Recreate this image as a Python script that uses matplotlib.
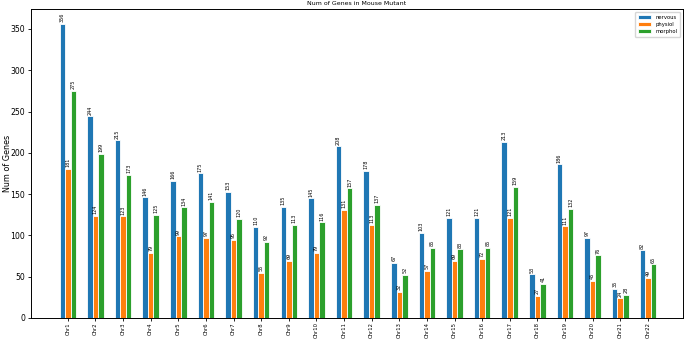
import numpy as np
import matplotlib
matplotlib.use("Agg")
import matplotlib.pyplot as plt

chroms = ["Chr%d" % i for i in range(1, 23)]
nervous = [356, 244, 215, 146, 166, 175, 153, 110, 135, 145, 208, 178,
           67, 103, 121, 121, 213, 53, 186, 97, 35, 82]
physiol = [181, 124, 123, 79, 99, 97, 95, 55, 69, 79, 131, 113,
           32, 57, 69, 72, 121, 27, 111, 45, 24, 49]
morphol = [275, 199, 173, 125, 134, 141, 120, 92, 113, 116, 157, 137,
           52, 85, 83, 85, 159, 41, 132, 76, 28, 65]

fig = plt.figure(figsize=(6.85, 3.39), dpi=100)
ax = fig.add_axes([0.045, 0.062, 0.952, 0.911])

x = np.arange(len(chroms))
w = 0.2
series = [("nervous", nervous, "#1f77b4", -w),
          ("physiol", physiol, "#ff7f0e", 0),
          ("morphol", morphol, "#2ca02c", w)]
for name, vals, col, off in series:
    bars = ax.bar(x + off, vals, w, color=col, edgecolor="white",
                  linewidth=0.6, label=name)
    # value labels above each bar
    for b, v in zip(bars, vals):
        ax.text(b.get_x() + b.get_width() / 2, v + 2, str(v),
                ha="center", va="bottom", rotation=90, fontsize=3.5)

ax.set_xticks(x)
ax.set_xticklabels(chroms, rotation=90, fontsize=3.8)
ax.tick_params(axis="y", labelsize=5.6, length=2.5, width=0.6, pad=1.5)
ax.tick_params(axis="x", length=2, width=0.6, pad=1.2)
ax.set_xlim(-1.34, 22.27)
ax.set_ylim(0, 374)
ax.set_ylabel("Num of Genes", fontsize=5.8)
ax.yaxis.set_label_coords(-0.029, 0.5)
ax.set_title("Num of Genes in Mouse Mutant", fontsize=4.5, pad=3)
for s in ax.spines.values():
    s.set_linewidth(0.7)
ax.legend(loc="upper right", fontsize=3.8, handlelength=2.5,
          borderpad=0.6, labelspacing=0.4)

fig.savefig("out.png", dpi=100)
